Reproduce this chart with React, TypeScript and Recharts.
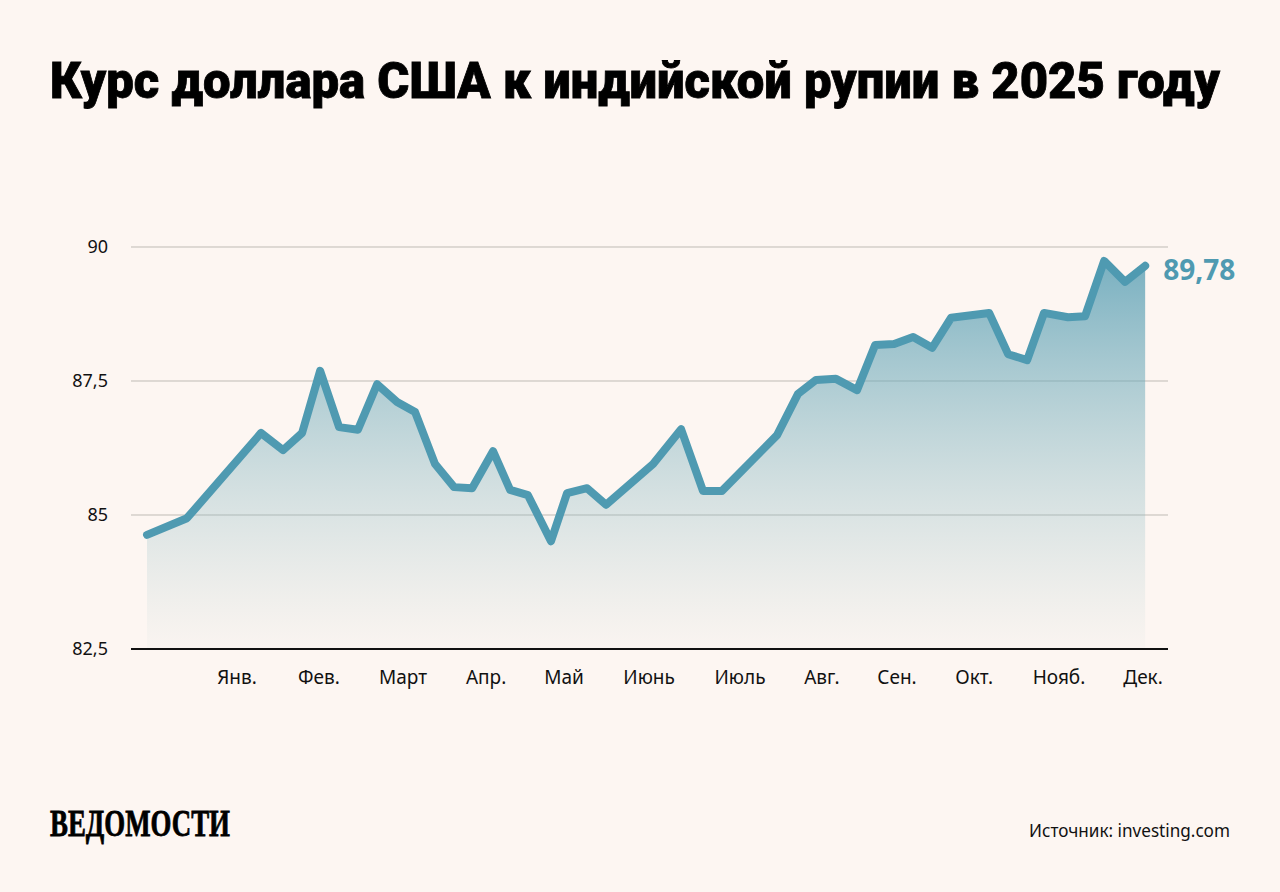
import React from 'react';
import { ComposedChart, Area, Line, XAxis, YAxis, CartesianGrid } from 'recharts';

// week number since the start of the series
const weeks = [
  0, 2.08, 5.94, 7.09, 8.08, 9.02, 10.01, 10.99, 11.99, 13.03, 13.97, 15.01, 16, 16.94, 18.03, 18.92, 19.85, 21.05,
  21.89, 22.93, 23.92, 26.37, 27.83, 28.97, 29.96, 32.83, 33.92, 34.86, 35.9, 37, 37.94, 38.93, 39.92, 40.91, 41.9,
  43.88, 44.87, 45.86, 46.74, 47.99, 48.88, 49.87, 50.96, 52.01,
];
const rates = [
  84.63, 84.94, 86.53, 86.21, 86.53, 87.69, 86.64, 86.59, 87.44, 87.11, 86.92, 85.95, 85.52, 85.5, 86.19, 85.47,
  85.37, 84.51, 85.41, 85.5, 85.19, 85.95, 86.6, 85.45, 85.45, 86.49, 87.26, 87.52, 87.54, 87.33, 88.17, 88.19,
  88.32, 88.12, 88.68, 88.77, 88, 87.89, 88.77, 88.69, 88.71, 89.74, 89.35, 89.65,
];
const monthTicks = [4.69, 8.96, 13.34, 17.67, 21.73, 26.16, 30.9, 35.17, 39.08, 43.1, 47.52, 51.9];
const monthLabels = ['Янв.', 'Фев.', 'Март', 'Апр.', 'Май', 'Июнь', 'Июль', 'Авг.', 'Сен.', 'Окт.', 'Нояб.', 'Дек.'];
const rateTicks = [82.5, 85, 87.5, 90];
const lastLabel = '89,78';

const chartData = weeks.map((week, i) => ({ week, rate: rates[i] }));

const BG = '#fdf6f2';
const TEAL = '#4f9ab1';
const FONT = '"Noto Sans", sans-serif';

const formatRate = (v: number) => String(v).replace('.', ',');
const formatMonth = (v: number) => monthLabels[monthTicks.indexOf(v)] ?? '';

function LastLabel(props: any) {
  if (props.index !== chartData.length - 1) return null;
  return (
    <text x={props.x + 18} y={props.y + 14} fill={TEAL} fontFamily={FONT} fontSize={28} fontWeight={700}>
      {lastLabel}
    </text>
  );
}

export default function App() {
  return (
    <div style={{ position: 'fixed', left: 0, top: 0, width: 1280, height: 892, background: BG, overflow: 'hidden' }}>
      <svg width={1280} height={892} style={{ position: 'absolute', left: 0, top: 0 }}>
        <text
          x={50}
          y={98}
          textLength={1170}
          lengthAdjust="spacingAndGlyphs"
          fontFamily="Roboto, sans-serif"
          fontWeight={900}
          fontSize={50}
          fill="#000"
          stroke="#000"
          strokeWidth={0.8}
        >
          Курс доллара США к индийской рупии в 2025 году
        </text>
        <text
          x={50}
          y={836}
          textLength={180}
          lengthAdjust="spacingAndGlyphs"
          fontFamily='"Liberation Serif", serif'
          fontWeight={700}
          fontSize={37}
          fill="#000"
          stroke="#000"
          strokeWidth={0.8}
        >
          ВЕДОМОСТИ
        </text>
        <text
          x={1029}
          y={837}
          textLength={201}
          lengthAdjust="spacingAndGlyphs"
          fontFamily={FONT}
          fontSize={18}
          fill="#111"
        >
          Источник: investing.com
        </text>
      </svg>
      <div style={{ position: 'absolute', left: 0, top: 0 }}>
        <ComposedChart
          width={1280}
          height={892}
          data={chartData}
          margin={{ top: 247, right: 112, bottom: 0, left: 0 }}
        >
          <defs>
            <linearGradient id="rateFill" x1="0" y1="0" x2="0" y2="1">
              <stop offset="0%" stopColor="#4f9ab1" stopOpacity={0.76} />
              <stop offset="100%" stopColor="#a3c6c8" stopOpacity={0.04} />
            </linearGradient>
          </defs>
          <CartesianGrid horizontal vertical={false} stroke="#bfbbb5" strokeWidth={1} />
          <XAxis
            dataKey="week"
            type="number"
            domain={[-0.834, 53.2]}
            ticks={monthTicks}
            tickFormatter={formatMonth}
            interval={0}
            height={243}
            tickSize={0}
            tickMargin={22}
            axisLine={{ stroke: '#111', strokeWidth: 2 }}
            tick={{ fill: '#111', fontSize: 19, fontFamily: FONT }}
          />
          <YAxis
            type="number"
            domain={[82.5, 90]}
            ticks={rateTicks}
            tickFormatter={formatRate}
            interval={0}
            width={131}
            tickSize={0}
            tickMargin={23}
            axisLine={false}
            tick={{ fill: '#111', fontSize: 18, fontFamily: FONT }}
          />
          <Area
            dataKey="rate"
            type="linear"
            stroke="none"
            fill="url(#rateFill)"
            fillOpacity={1}
            baseValue={82.5}
            dot={false}
            activeDot={false}
            isAnimationActive={false}
          />
          <Line
            dataKey="rate"
            type="linear"
            stroke={TEAL}
            strokeWidth={8}
            strokeLinecap="round"
            strokeLinejoin="round"
            dot={false}
            activeDot={false}
            label={<LastLabel />}
            isAnimationActive={false}
          />
        </ComposedChart>
      </div>
    </div>
  );
}
